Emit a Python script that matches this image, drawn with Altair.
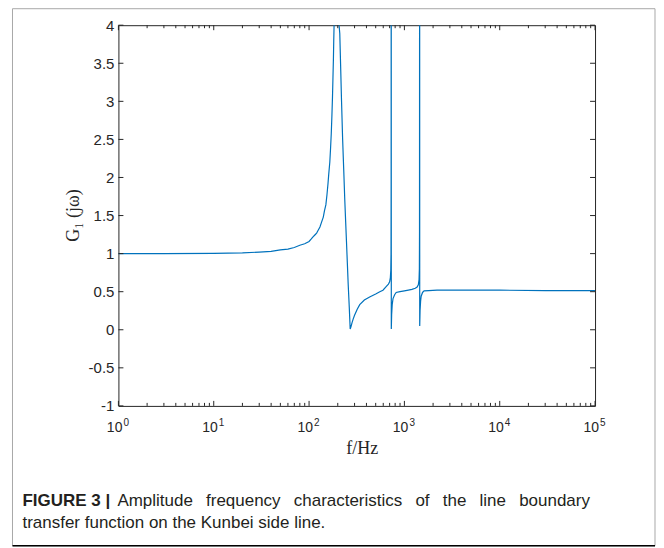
import altair as alt
import pandas as pd

# ---- data ----
freq = [1, 3, 10, 20, 30, 40, 50, 60, 70, 80, 90, 100, 105, 110, 115, 120, 125, 130, 135, 141, 145, 150, 154, 158,
        161, 165, 168, 171, 173.5, 176, 178, 180, 181.5, 183, 185, 188,
        204, 206.5, 210, 215, 219, 225, 231, 237, 242, 247, 252, 257, 264, 270,
        275, 282, 290, 300, 320, 340, 380, 432, 500, 552, 596, 647, 680, 700, 712, 720, 724, 726, 726.8,
        727.6, 729, 735, 745, 760, 790, 820, 900, 1000, 1100, 1200, 1300, 1360, 1400, 1425, 1436, 1441, 1444,
        1446, 1448, 1460, 1480, 1500, 1550, 1610, 1800, 2200, 3000, 5000, 10000, 30000, 100000]
gain = [1.0, 1.0, 1.003, 1.01, 1.02, 1.03, 1.05, 1.06, 1.08, 1.11, 1.13, 1.16, 1.19, 1.22, 1.245, 1.27, 1.31, 1.35, 1.41, 1.48, 1.56, 1.64, 1.77, 1.92,
        2.05, 2.2, 2.38, 2.58, 2.8, 3.05, 3.3, 3.55, 3.8, 4.0, 4.6, 6.0,
        6.0, 4.0, 3.89, 3.4, 3.01, 2.5, 2.1, 1.70, 1.42, 1.15, 0.88, 0.61, 0.3, 0.01,
        0.04, 0.09, 0.14, 0.19, 0.27, 0.33, 0.39, 0.43, 0.47, 0.50, 0.52, 0.57, 0.60, 0.63, 0.68, 0.78, 1.0, 2.0, 6.0,
        6.0, 0.01, 0.2, 0.33, 0.41, 0.46, 0.49, 0.50, 0.51, 0.52, 0.53, 0.545, 0.56, 0.59, 0.66, 0.8, 1.3, 6.0,
        6.0, 0.05, 0.25, 0.38, 0.44, 0.49, 0.51, 0.515, 0.52, 0.52, 0.52, 0.52, 0.515, 0.515]

x_major = [1, 10, 100, 1000, 10000, 100000]
x_exp = ["0", "1", "2", "3", "4", "5"]
x_minor = [m * d for d in [1, 10, 100, 1000, 10000] for m in range(2, 10)]
y_major = [-1, -0.5, 0, 0.5, 1, 1.5, 2, 2.5, 3, 3.5, 4]
y_labels = ["-1", "-0.5", "0", "0.5", "1", "1.5", "2", "2.5", "3", "3.5", "4"]

x_title = "f/Hz"
y_title = "G\u2081 (j\u03c9)"
caption_bold = "FIGURE 3 |"
caption_line1 = "Amplitude frequency characteristics of the line boundary"
caption_line2 = "transfer function on the Kunbei side line."

W, H = 477, 381
AX = "#262626"
SANS = "Liberation Sans"
SERIF = "Liberation Serif"

df = pd.DataFrame({"f": freq, "g": gain})
xscale = alt.Scale(type="log", domain=[1, 100000], nice=False)
yscale = alt.Scale(domain=[-1, 4], nice=False, zero=False)

line = alt.Chart(df).mark_line(color="#0072BD", strokeWidth=1.2, clip=True).encode(
    x=alt.X("f:Q", scale=xscale, axis=None),
    y=alt.Y("g:Q", scale=yscale, axis=None),
)

xmaj = alt.Chart(pd.DataFrame({"f": x_major, "e": x_exp}))
xmin = alt.Chart(pd.DataFrame({"f": x_minor}))
ymaj = alt.Chart(pd.DataFrame({"g": y_major, "lab": y_labels}))

XF = alt.X("f:Q", scale=xscale, axis=None)
YF = alt.Y("g:Q", scale=yscale, axis=None)

ticks = [
    xmaj.mark_rule(color=AX, strokeWidth=1).encode(x=XF, y=alt.value(H), y2=alt.value(H - 5)),
    xmaj.mark_rule(color=AX, strokeWidth=1).encode(x=XF, y=alt.value(0), y2=alt.value(5)),
    xmin.mark_rule(color=AX, strokeWidth=1).encode(x=XF, y=alt.value(H), y2=alt.value(H - 3)),
    xmin.mark_rule(color=AX, strokeWidth=1).encode(x=XF, y=alt.value(0), y2=alt.value(3)),
    ymaj.mark_rule(color=AX, strokeWidth=1).encode(y=YF, x=alt.value(0), x2=alt.value(5)),
    ymaj.mark_rule(color=AX, strokeWidth=1).encode(y=YF, x=alt.value(W), x2=alt.value(W - 5)),
]

labels = [
    xmaj.mark_text(align="right", baseline="alphabetic", font=SANS, fontSize=14, color=AX, dx=4).encode(
        x=XF, y=alt.value(H + 26.5), text=alt.value("10")),
    xmaj.mark_text(align="left", baseline="alphabetic", font=SANS, fontSize=10, color=AX, dx=5).encode(
        x=XF, y=alt.value(H + 20.5), text="e:N"),
    ymaj.mark_text(align="right", baseline="middle", font=SANS, fontSize=15, color=AX, dy=0.5).encode(
        y=YF, x=alt.value(-4), text="lab:N"),
]

one = alt.Data(values=[{"k": 1}])
titles = [
    alt.Chart(one).mark_text(align="center", baseline="alphabetic", font=SERIF, fontSize=18, color=AX).encode(
        x=alt.value(244), y=alt.value(429), text=alt.value(x_title)),
    alt.Chart(one).mark_text(align="center", baseline="middle", font=SERIF, fontSize=18, color=AX, angle=270).encode(
        x=alt.value(-44), y=alt.value(H / 2), text=alt.value(y_title)),
]

FR = 537
FB = 521
frame = alt.Chart(one).mark_rect(fillOpacity=0, stroke="#a8a8a8", strokeWidth=1).encode(
    x=alt.value(-106), x2=alt.value(FR), y=alt.value(-16.5), y2=alt.value(FB))
frame_bottom = alt.Chart(one).mark_rule(color="#000000", strokeWidth=1.5).encode(
    x=alt.value(-106), x2=alt.value(FR), y=alt.value(FB))

gap = " \u2002"
cap_b = alt.Chart(one).mark_text(align="left", baseline="alphabetic", font=SANS, fontSize=17,
                                 fontWeight="bold", color="#231f20").encode(
    x=alt.value(-96), y=alt.value(481), text=alt.value(caption_bold))
cap_1 = alt.Chart(one).mark_text(align="left", baseline="alphabetic", font=SANS, fontSize=17,
                                 color="#231f20").encode(
    x=alt.value(-1), y=alt.value(481), text=alt.value(caption_line1.replace(" ", gap)))
cap_2 = alt.Chart(one).mark_text(align="left", baseline="alphabetic", font=SANS, fontSize=17,
                                 color="#231f20").encode(
    x=alt.value(-96), y=alt.value(503), text=alt.value(caption_line2))

chart = alt.layer(line, *ticks, *labels, *titles, frame, frame_bottom, cap_b, cap_1, cap_2).properties(
    width=W, height=H, padding={"left": 3.5, "top": 0, "right": 0, "bottom": 0}
).configure_view(stroke=AX, strokeWidth=1)

chart.save("out.html", embed_options={"renderer": "svg", "actions": False})
